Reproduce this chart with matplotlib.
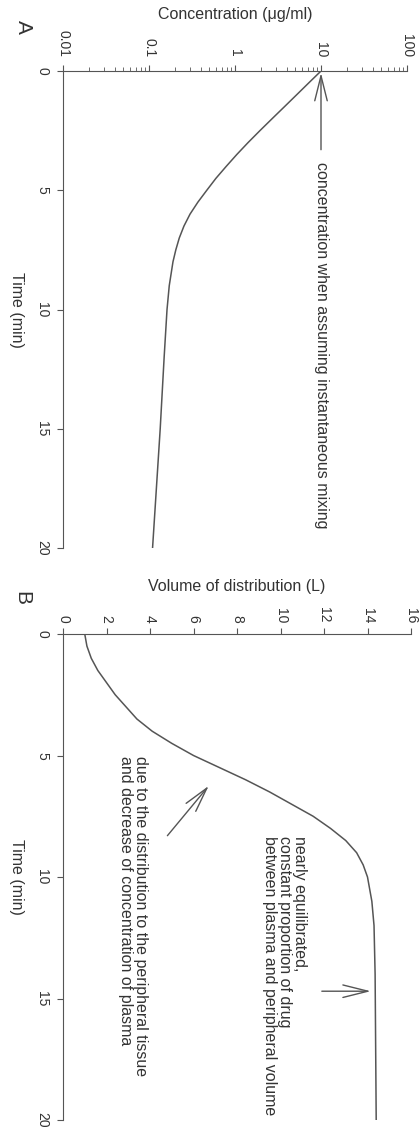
import matplotlib
matplotlib.use('Agg')
import matplotlib.pyplot as plt
from matplotlib.ticker import LogLocator, NullFormatter

plt.rcParams['font.family'] = ['Liberation Sans', 'DejaVu Sans']

# Daten Panel A: Konzentration (log) ueber die Zeit
zeit_a = [0, 0.5, 1, 1.5, 2, 2.5, 3, 3.5, 4, 4.5, 5, 5.5, 6, 6.5, 7, 7.5, 8, 9, 10, 12, 15, 20]
konz_a = [10, 7.2, 5.2, 3.75, 2.7, 1.95, 1.42, 1.05, 0.79, 0.6, 0.47, 0.37, 0.3, 0.255,
          0.225, 0.205, 0.19, 0.172, 0.162, 0.15, 0.135, 0.11]

# Daten Panel B: Verteilungsvolumen ueber die Zeit
zeit_b = [0, 0.5, 1, 1.5, 2, 2.5, 3, 3.5, 4, 4.5, 5, 5.5, 6, 6.5, 7, 7.5, 8, 8.5, 9, 9.5,
          10, 11, 12, 14, 20]
vol_b = [1.0, 1.1, 1.3, 1.6, 2.0, 2.4, 2.9, 3.4, 4.1, 5.0, 6.0, 7.2, 8.4, 9.5, 10.5, 11.5,
         12.3, 13.0, 13.5, 13.8, 14.0, 14.2, 14.3, 14.35, 14.4]

zeit_ticks = [0, 5, 10, 15, 20]
konz_ticks = [0.01, 0.1, 1, 10, 100]
konz_labels = ['0.01', '0.1', '1', '10', '100']
vol_ticks = [0, 2, 4, 6, 8, 10, 12, 14, 16]

grau = '#555555'
textfarbe = '#333333'

fig = plt.figure(figsize=(4.19, 11.32), dpi=100)
ax_a = fig.add_axes([63 / 419, 1 - 548 / 1132, 344 / 419, 477 / 1132])
ax_b = fig.add_axes([63 / 419, 1 - 1120 / 1132, 348 / 419, 486 / 1132])

for ax in (ax_a, ax_b):
    ax.spines['bottom'].set_visible(False)
    ax.spines['right'].set_visible(False)
    ax.spines['top'].set_color(grau)
    ax.spines['left'].set_color(grau)
    ax.xaxis.tick_top()
    ax.set_ylim(20, 0)
    ax.set_yticks(zeit_ticks)
    ax.set_yticklabels([str(t) for t in zeit_ticks], rotation=-90, va='center')
    ax.tick_params(axis='y', colors=grau, labelcolor=textfarbe, labelsize=10,
                   length=4, pad=6)
    ax.set_ylabel('Time (min)', rotation=-90, fontsize=11.5, color=textfarbe,
                  va='center', ha='center')
    ax.yaxis.set_label_coords(-0.135, 0.5)

# Panel A
ax_a.plot(konz_a, zeit_a, color=grau, lw=1.1)
ax_a.set_xscale('log')
ax_a.set_xlim(0.01, 100)
ax_a.set_xticks(konz_ticks)
ax_a.set_xticklabels(konz_labels, rotation=-90, va='bottom', ha='center')
ax_a.xaxis.set_minor_locator(LogLocator(base=10, subs=range(2, 10)))
ax_a.xaxis.set_minor_formatter(NullFormatter())
ax_a.tick_params(axis='x', which='major', colors=grau, labelcolor=textfarbe,
                 labelsize=10, length=4, pad=6)
ax_a.tick_params(axis='x', which='minor', colors=grau, length=3)
ax_a.set_xlabel('Concentration (\u03bcg/ml)', fontsize=11.5, color=textfarbe)
ax_a.xaxis.set_label_position('top')
ax_a.xaxis.set_label_coords(0.5, 1 + 57 / 477)
ax_a.xaxis.label.set_va('center')

ax_a.annotate('', xy=(10, 0.08), xytext=(10, 3.3),
              arrowprops=dict(arrowstyle='->,head_length=1.8,head_width=0.45',
                              mutation_scale=10, color=grau, lw=1.0,
                              shrinkA=0, shrinkB=0))
ax_a.text(10, 3.8, 'concentration when assuming instantaneous mixing',
          rotation=-90, ha='center', va='top', fontsize=11.5, color=textfarbe)

# Panel B
ax_b.plot(vol_b, zeit_b, color=grau, lw=1.1)
ax_b.set_xlim(0, 16)
ax_b.set_xticks(vol_ticks)
ax_b.set_xticklabels([str(v) for v in vol_ticks], rotation=-90, va='bottom', ha='center')
ax_b.tick_params(axis='x', colors=grau, labelcolor=textfarbe, labelsize=10,
                 length=4, pad=4)
ax_b.set_xlabel('Volume of distribution (L)', fontsize=11.5, color=textfarbe)
ax_b.xaxis.set_label_position('top')
ax_b.xaxis.set_label_coords(0.5, 1 + 48 / 486)
ax_b.xaxis.label.set_va('center')

ax_b.annotate('', xy=(6.7, 6.25), xytext=(4.8, 8.3),
              arrowprops=dict(arrowstyle='->,head_length=1.8,head_width=0.45',
                              mutation_scale=10, color=grau, lw=1.0,
                              shrinkA=0, shrinkB=0))
ax_b.text(3.2, 5.0, 'due to the distribution to the peripheral tissue\n'
          'and decrease of concentration of plasma',
          rotation=-90, ha='center', va='top', multialignment='left',
          fontsize=11.5, color=textfarbe, linespacing=1.0)

ax_b.annotate('', xy=(14.15, 14.7), xytext=(11.9, 14.7),
              arrowprops=dict(arrowstyle='->,head_length=1.8,head_width=0.45',
                              mutation_scale=10, color=grau, lw=1.0,
                              shrinkA=0, shrinkB=0))
ax_b.text(10.2, 8.3, 'nearly equilibrated,\nconstant proportion of drug\n'
          'between plasma and peripheral volume',
          rotation=-90, ha='center', va='top', multialignment='left',
          fontsize=11.5, color=textfarbe, linespacing=1.0)

# Panel-Buchstaben
fig.text(23 / 419, 1 - 27 / 1132, 'A', rotation=-90, fontsize=15, color=textfarbe,
         ha='center', va='center')
fig.text(22 / 419, 1 - 598 / 1132, 'B', rotation=-90, fontsize=15, color=textfarbe,
         ha='center', va='center')

fig.savefig('out.png', dpi=100)
